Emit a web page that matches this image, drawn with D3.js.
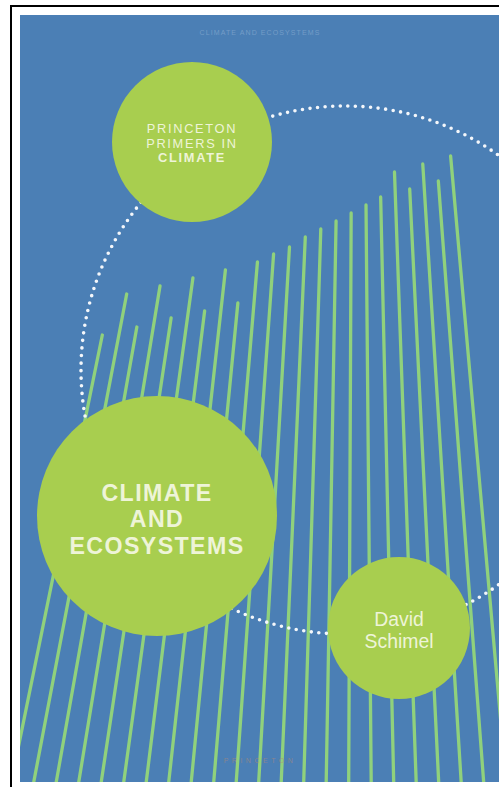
<!DOCTYPE html>
<html>
<head>
<meta charset="utf-8">
<script src="https://d3js.org/d3.v7.min.js"></script>
<style>
body { margin: 0; background: #ffffff; }
svg { display: block; }
</style>
</head>
<body>
<div id="cover"></div>
<script>
// heights of the green strokes, left to right (px above the bottom edge)
var lineHeights = [452, 493, 460, 501, 469, 509, 476, 517, 484, 525, 533, 540,
                   550, 558, 566, 574, 582, 590, 615, 598, 623, 606, 631];

// text on the three discs
var seriesLabel = ["PRINCETON", "PRIMERS IN", "CLIMATE"];
var titleLabel = ["CLIMATE", "AND", "ECOSYSTEMS"];
var authorLabel = ["David", "Schimel"];

var W = 499, H = 787;
var panel = {x: 20, y: 15, w: 479, h: 767};
var blue = "#4b7fb5", disc = "#a8ce4f", stroke = "#90d17c", ink = "#eef4d8";
var face = "'Liberation Sans', Arial, sans-serif";

var svg = d3.select("#cover").append("svg")
  .attr("width", W).attr("height", H);

// black frame, top and left
svg.append("rect").attr("x", 10).attr("y", 5).attr("width", W - 10).attr("height", 2).attr("fill", "#000");
svg.append("rect").attr("x", 10).attr("y", 5).attr("width", 2).attr("height", H - 5).attr("fill", "#000");

svg.append("clipPath").attr("id", "clip")
  .append("rect").attr("x", panel.x).attr("y", panel.y).attr("width", panel.w).attr("height", panel.h);

var g = svg.append("g").attr("clip-path", "url(#clip)");

g.append("rect")
  .attr("x", panel.x).attr("y", panel.y).attr("width", panel.w).attr("height", panel.h)
  .attr("fill", blue);

// scales: index -> position where the stroke crosses y = 690, height -> y
var refY = 690;
var x = d3.scaleLinear().domain([0, lineHeights.length - 1]).range([30, 498]);
var y = d3.scaleLinear().domain([0, 640]).range([H, H - 640]);
var vanish = {x: 356, y: -910};   // strokes lean toward a point far above

function xAt(i, yy) {
  var a = x(i);
  return a + (vanish.x - a) * (refY - yy) / (refY - vanish.y);
}

g.selectAll("line.stroke")
  .data(lineHeights)
  .enter()
  .append("line")
  .attr("class", "stroke")
  .attr("x1", function (d, i) { return xAt(i, H + 5); })
  .attr("y1", H + 5)
  .attr("x2", function (d, i) { return xAt(i, y(d)); })
  .attr("y2", function (d) { return y(d); })
  .attr("stroke", stroke)
  .attr("stroke-width", 3.3)
  .attr("stroke-linecap", "round");

// big dotted ring
g.append("circle")
  .attr("cx", 345).attr("cy", 370).attr("r", 264)
  .attr("fill", "none")
  .attr("stroke", "#f4f7fb")
  .attr("stroke-width", 3.6)
  .attr("stroke-linecap", "round")
  .attr("stroke-dasharray", "0 7.6");

// faint small print top and bottom
g.append("text").attr("x", 260).attr("y", 35).attr("text-anchor", "middle")
  .attr("font-family", face).attr("font-size", 7).attr("letter-spacing", 1.1)
  .attr("fill", "#8fb0d4").attr("opacity", 0.6).text("CLIMATE AND ECOSYSTEMS");
g.append("text").attr("x", 260).attr("y", 763).attr("text-anchor", "middle")
  .attr("font-family", face).attr("font-size", 7).attr("letter-spacing", 3.5)
  .attr("fill", "#b08a7a").attr("opacity", 0.6).text("PRINCETON");

// one disc with its label, one text per line
function drawDisc(cx, cy, r, label, opt) {
  g.append("circle").attr("cx", cx).attr("cy", cy).attr("r", r).attr("fill", disc);
  g.selectAll(null)
    .data(label)
    .enter()
    .append("text")
    .attr("x", cx)
    .attr("y", function (d, i) { return opt.base + i * opt.lead; })
    .attr("text-anchor", "middle")
    .attr("font-family", face)
    .attr("font-size", opt.size)
    .attr("letter-spacing", opt.spacing)
    .attr("font-weight", function (d, i) { return (opt.boldLast && i == label.length - 1) ? 700 : opt.weight; })
    .attr("fill", ink)
    .text(function (d) { return d; });
}

drawDisc(192, 142, 80, seriesLabel, {size: 12.8, lead: 14.6, base: 133.2, weight: 400, spacing: 1.7, boldLast: true});
drawDisc(157, 516, 120, titleLabel, {size: 23.2, lead: 26.5, base: 500.5, weight: 700, spacing: 1.4, boldLast: false});
drawDisc(399, 628, 71, authorLabel, {size: 19.4, lead: 22.2, base: 625.5, weight: 400, spacing: 0, boldLast: false});
</script>
</body>
</html>
